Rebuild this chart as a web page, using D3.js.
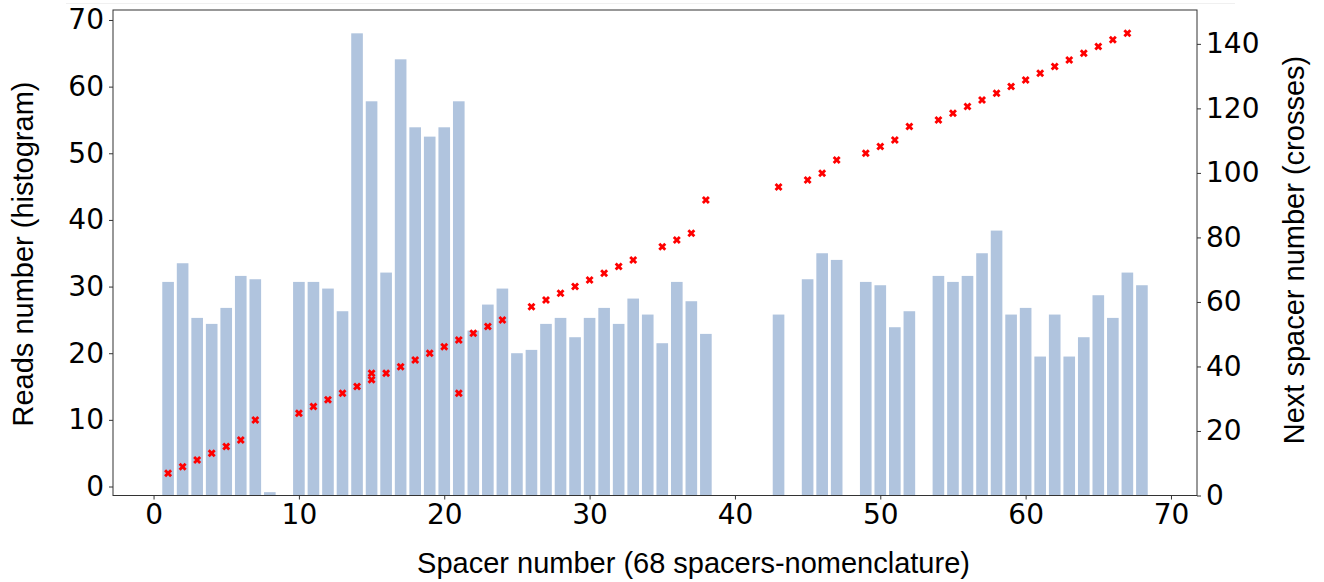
<!DOCTYPE html>
<head>
<meta charset="utf-8">
<script src="https://cdn.jsdelivr.net/npm/d3@7"></script>
<style>
  body { margin: 0; background: #fff; }
  .tick text { font-family: "DejaVu Sans", sans-serif; font-size: 28px; fill: #000; }
  .axlabel { font-family: "Liberation Sans", Arial, sans-serif; font-size: 29px; fill: #000; }
</style>
</head>
<body>
<svg width="1324" height="582"></svg>

<script>
// reads per spacer (bars), spacer 1..68, null = no bar
var spacers = d3.range(1, 69);
var reads = [30.7, 33.5, 25.3, 24.4, 26.8, 31.6, 31.1, -0.85, null, 30.7,
             30.7, 29.7, 26.3, 68.0, 57.8, 32.1, 64.1, 53.9, 52.5, 53.9,
             57.8, 23.4, 27.3, 29.7, 20.0, 20.5, 24.4, 25.3, 22.4, 25.3,
             26.8, 24.4, 28.2, 25.8, 21.5, 30.7, 27.8, 22.9, null, null,
             null, null, 25.8, null, 31.1, 35.0, 34.0, null, 30.7, 30.2,
             23.9, 26.3, null, 31.6, 30.7, 31.6, 35.0, 38.4, 25.8, 26.8,
             19.5, 25.8, 19.5, 22.4, 28.7, 25.3, 32.1, 30.2];

// next spacer number (crosses)
var crossX = [1, 2, 3, 4, 5, 6, 7, 10, 11, 12, 13, 14, 15, 15, 16, 17, 18, 19, 20, 21, 21,
              22, 23, 24, 26, 27, 28, 29, 30, 31, 32, 33, 35, 36, 37, 38, 43, 45, 46, 47,
              49, 50, 51, 52, 54, 55, 56, 57, 58, 59, 60, 61, 62, 63, 64, 65, 66, 67];
var crossY = [6.9, 8.9, 11.0, 13.1, 15.2, 17.2, 23.4, 25.5, 27.6, 29.7, 31.7, 33.8, 35.9, 37.9, 37.9, 39.9, 42.0, 44.1, 46.1, 48.2, 31.7,
              50.3, 52.4, 54.4, 58.5, 60.6, 62.7, 64.8, 66.8, 68.9, 71.0, 73.0, 77.1, 79.2, 81.3, 91.6, 95.6, 97.8, 99.9, 104.0,
              106.1, 108.2, 110.2, 114.4, 116.4, 118.5, 120.6, 122.6, 124.7, 126.8, 128.8, 130.9, 133.0, 135.0, 137.1, 139.2, 141.3, 143.3];

var xTicks = [0, 10, 20, 30, 40, 50, 60, 70];
var leftTicks = [0, 10, 20, 30, 40, 50, 60, 70];
var rightTicks = [0, 20, 40, 60, 80, 100, 120, 140];

var svg = d3.select("svg"),
    margin = {top: 10, right: 127, bottom: 86.5, left: 113},
    width = +svg.attr("width") - margin.left - margin.right,
    height = +svg.attr("height") - margin.top - margin.bottom;

// faint figure edge at the top
svg.append("line")
    .attr("x1", 66).attr("x2", 1235).attr("y1", 3.5).attr("y2", 3.5)
    .attr("stroke", "#f0f0f0").attr("stroke-width", 1);

var g = svg.append("g").attr("transform", "translate(" + margin.left + "," + margin.top + ")");

var x = d3.scaleLinear().domain([-2.79, 71.79]).range([0, width]);
var y = d3.scaleLinear().domain([-1.35, 71.5]).range([height, 0]);
var y2 = d3.scaleLinear().domain([0, 150.5]).range([height, 0]);

var barW = x(0.8) - x(0);
var bars = spacers.map(function(s, i) { return {s: s, v: reads[i]}; })
    .filter(function(d) { return d.v !== null; });

g.append("g")
  .selectAll("rect")
  .data(bars)
  .enter().append("rect")
    .attr("x", function(d) { return x(d.s - 0.4); })
    .attr("width", barW)
    .attr("y", function(d) { return y(d.v); })
    .attr("height", function(d) { return y.range()[0] - y(d.v); })
    .attr("fill", "#b0c4de");

var cross = d3.symbol().type(d3.symbolCross).size(40);
g.append("g")
  .selectAll("path")
  .data(crossX.map(function(s, i) { return [s, crossY[i]]; }))
  .enter().append("path")
    .attr("d", cross)
    .attr("transform", function(d) { return "translate(" + x(d[0]) + "," + y2(d[1]) + ") rotate(45)"; })
    .attr("fill", "#ff0000");

// frame
g.append("rect")
    .attr("width", width).attr("height", height)
    .attr("fill", "none").attr("stroke", "#333").attr("stroke-width", 1);

function styleAxis(sel) {
  sel.select(".domain").remove();
  sel.selectAll(".tick line").attr("stroke", "#333");
}

g.append("g")
    .attr("transform", "translate(0," + height + ")")
    .call(d3.axisBottom(x).tickValues(xTicks).tickSize(4).tickPadding(5))
    .call(styleAxis);

g.append("g")
    .call(d3.axisLeft(y).tickValues(leftTicks).tickSize(4).tickPadding(5))
    .call(styleAxis);

g.append("g")
    .attr("transform", "translate(" + width + ",0)")
    .call(d3.axisRight(y2).tickValues(rightTicks).tickSize(4).tickPadding(5))
    .call(styleAxis);

svg.append("text")
    .attr("class", "axlabel")
    .attr("x", 693.5).attr("y", 573)
    .attr("text-anchor", "middle")
    .text("Spacer number (68 spacers-nomenclature)");

svg.append("text")
    .attr("class", "axlabel")
    .attr("transform", "translate(33,254) rotate(-90)")
    .attr("text-anchor", "middle")
    .text("Reads number (histogram)");

svg.append("text")
    .attr("class", "axlabel")
    .attr("transform", "translate(1304,250) rotate(-90)")
    .attr("text-anchor", "middle")
    .text("Next spacer number (crosses)");
</script>
</body>
